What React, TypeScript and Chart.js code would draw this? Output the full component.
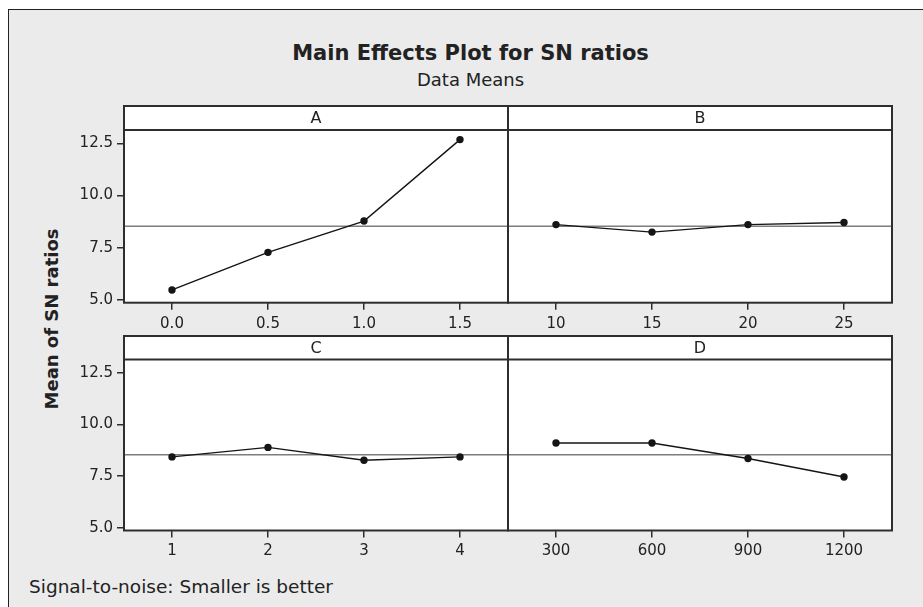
import React, { useEffect, useRef } from "react";
import { Chart, registerables } from "chart.js";

Chart.register(...registerables);

// ---- data ----
const A_LEVELS = ["0.0", "0.5", "1.0", "1.5"];
const A_MEANS = [5.48, 7.28, 8.78, 12.68];
const B_LEVELS = ["10", "15", "20", "25"];
const B_MEANS = [8.61, 8.25, 8.61, 8.71];
const C_LEVELS = ["1", "2", "3", "4"];
const C_MEANS = [8.43, 8.89, 8.27, 8.43];
const D_LEVELS = ["300", "600", "900", "1200"];
const D_MEANS = [9.1, 9.1, 8.35, 7.46];
const Y_TICKS = [5.0, 7.5, 10.0, 12.5];
const GRAND_MEAN = 8.53;
const Y_MIN = 4.87;
const Y_MAX = 13.14;

const TITLE = "Main Effects Plot for SN ratios";
const SUBTITLE = "Data Means";
const Y_TITLE = "Mean of SN ratios";
const FOOTER = "Signal-to-noise: Smaller is better";

// ---- layout ----
const W = 923;
const H = 607;
const Y_AXIS_W = 60;
const X_AXIS_H = 40;
const FONT = "'DejaVu Sans', Verdana, sans-serif";
const LINE = "#2e2e2e";

type Panel = {
  name: string;
  levels: string[];
  means: number[];
  left: number;
  right: number;
  stripTop: number;
  top: number;
  bottom: number;
  showY: boolean;
};

const PANELS: Panel[] = [
  { name: "A", levels: A_LEVELS, means: A_MEANS, left: 124, right: 508, stripTop: 106, top: 130, bottom: 302.7, showY: true },
  { name: "B", levels: B_LEVELS, means: B_MEANS, left: 508, right: 892, stripTop: 106, top: 130, bottom: 302.7, showY: false },
  { name: "C", levels: C_LEVELS, means: C_MEANS, left: 124, right: 508, stripTop: 336, top: 359.5, bottom: 530.5, showY: true },
  { name: "D", levels: D_LEVELS, means: D_MEANS, left: 508, right: 892, stripTop: 336, top: 359.5, bottom: 530.5, showY: false },
];

function PanelChart({ p }: { p: Panel }) {
  const ref = useRef<HTMLCanvasElement>(null);
  useEffect(() => {
    const stripPlugin = {
      id: "strip",
      beforeDraw(chart: any) {
        const { ctx, chartArea: a } = chart;
        ctx.save();
        ctx.fillStyle = "#ffffff";
        ctx.fillRect(a.left, p.stripTop, a.right - a.left, a.bottom - p.stripTop);
        ctx.restore();
      },
      beforeDatasetsDraw(chart: any) {
        const { ctx, chartArea: a } = chart;
        const y = chart.scales.y.getPixelForValue(GRAND_MEAN);
        ctx.save();
        ctx.strokeStyle = "#7d7d7d";
        ctx.lineWidth = 1.6;
        ctx.beginPath();
        ctx.moveTo(a.left, y);
        ctx.lineTo(a.right, y);
        ctx.stroke();
        ctx.restore();
      },
      afterDraw(chart: any) {
        const { ctx, chartArea: a } = chart;
        ctx.save();
        ctx.strokeStyle = LINE;
        ctx.lineWidth = 2;
        ctx.strokeRect(a.left, p.stripTop, a.right - a.left, a.bottom - p.stripTop);
        ctx.beginPath();
        ctx.moveTo(a.left, a.top);
        ctx.lineTo(a.right, a.top);
        ctx.stroke();
        ctx.fillStyle = "#222";
        ctx.font = `16px ${FONT}`;
        ctx.textAlign = "center";
        ctx.textBaseline = "middle";
        ctx.fillText(p.name, (a.left + a.right) / 2, (p.stripTop + a.top) / 2 + 1);
        ctx.restore();
      },
    };

    const chart = new Chart(ref.current as HTMLCanvasElement, {
      type: "line",
      data: {
        labels: p.levels,
        datasets: [
          {
            data: p.means,
            borderColor: "#151515",
            borderWidth: 1.4,
            pointRadius: 3.7,
            pointBackgroundColor: "#151515",
            pointBorderWidth: 0,
            tension: 0,
          },
        ],
      },
      options: {
        animation: false,
        responsive: false,
        events: [],
        layout: {
          padding: {
            left: p.showY ? p.left - Y_AXIS_W : p.left,
            right: W - p.right,
            top: p.top,
            bottom: H - p.bottom - X_AXIS_H,
          },
        },
        plugins: {
          legend: { display: false },
          tooltip: { enabled: false },
          title: { display: false },
        },
        scales: {
          x: {
            type: "category",
            offset: true,
            grid: { display: true, drawOnChartArea: false, tickLength: 7, color: LINE, lineWidth: 1.5, offset: false },
            border: { display: false },
            ticks: { color: "#222", font: { family: FONT, size: 15 }, padding: 5, maxRotation: 0, autoSkip: false },
            afterFit: (s: any) => {
              s.height = X_AXIS_H;
            },
          },
          y: {
            display: p.showY,
            min: Y_MIN,
            max: Y_MAX,
            afterBuildTicks: (s: any) => {
              s.ticks = Y_TICKS.map((v) => ({ value: v }));
            },
            grid: { display: true, drawOnChartArea: false, tickLength: 7, color: LINE, lineWidth: 1.5 },
            border: { display: false },
            ticks: {
              color: "#222",
              font: { family: FONT, size: 15 },
              padding: 4,
              callback: (v: any) => Number(v).toFixed(1),
            },
            afterFit: (s: any) => {
              s.width = p.showY ? Y_AXIS_W : 0;
            },
          },
        },
      },
      plugins: [stripPlugin],
    } as any);
    return () => chart.destroy();
  }, []);
  return <canvas ref={ref} width={W} height={H} style={{ position: "absolute", left: 0, top: 0 }} />;
}

export default function App() {
  return (
    <div
      style={{
        position: "fixed",
        left: 0,
        top: 0,
        width: W,
        height: H,
        overflow: "hidden",
        background: "#ffffff",
        fontFamily: FONT,
        color: "#222",
      }}
    >
      <div
        style={{
          position: "absolute",
          left: 8,
          top: 9,
          width: 1000,
          height: 700,
          background: "#ebebeb",
          borderTop: "1px solid #222",
          borderLeft: "1px solid #222",
        }}
      />
      <div style={{ position: "absolute", left: 0, width: 941, top: 43.2, textAlign: "center", fontWeight: "bold", fontSize: 21, lineHeight: "21px", whiteSpace: "nowrap" }}>
        {TITLE}
      </div>
      <div style={{ position: "absolute", left: 0, width: 941, top: 70.8, textAlign: "center", fontSize: 18, lineHeight: "18px", whiteSpace: "nowrap" }}>
        {SUBTITLE}
      </div>
      <div
        style={{
          position: "absolute",
          left: 51.5,
          top: 319,
          transform: "translate(-50%, -50%) rotate(-90deg)",
          fontWeight: "bold",
          fontSize: 18,
          lineHeight: "18px",
          whiteSpace: "nowrap",
        }}
      >
        {Y_TITLE}
      </div>
      <div style={{ position: "absolute", left: 29, top: 577.6, fontSize: 18.5, lineHeight: "18.5px", whiteSpace: "nowrap" }}>
        {FOOTER}
      </div>
      {PANELS.map((p) => (
        <PanelChart key={p.name} p={p} />
      ))}
    </div>
  );
}
